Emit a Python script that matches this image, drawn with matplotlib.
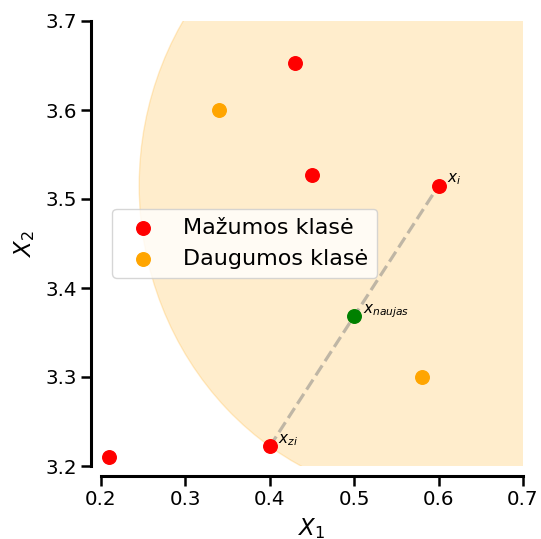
import numpy as np
import matplotlib
matplotlib.use("Agg")
import matplotlib.pyplot as plt
from matplotlib.patches import Circle

# Mažumos klasė (red) and Daugumos klasė (orange) points
min_x = [0.21, 0.40, 0.45, 0.43, 0.60]
min_y = [3.21, 3.222, 3.527, 3.653, 3.515]
maj_x = [0.34, 0.58]
maj_y = [3.60, 3.30]

x_i = (0.60, 3.515)
x_zi = (0.40, 3.222)
x_new = (0.50, 3.368)

fig = plt.figure(figsize=(5.41, 5.39), dpi=100)
ax = fig.add_axes([101 / 541, 1 - 466 / 539, 422 / 541, 445 / 539])

# neighbourhood of x_i
r = np.hypot(x_i[0] - x_zi[0], x_i[1] - x_zi[1])
ax.add_patch(Circle(x_i, r, color="orange", alpha=0.2, zorder=0))

ax.plot([x_zi[0], x_i[0]], [x_zi[1], x_i[1]], "--", color="gray", alpha=0.5,
        lw=2.3, zorder=1)

ax.scatter(min_x, min_y, s=95, color="red", label="Mažumos klasė", zorder=3)
ax.scatter(maj_x, maj_y, s=95, color="orange", label="Daugumos klasė", zorder=3)
ax.scatter([x_new[0]], [x_new[1]], s=95, color="green", zorder=3)

ax.text(x_i[0] + 0.01, x_i[1] + 0.004, r"$x_i$", fontsize=11)
ax.text(x_zi[0] + 0.01, x_zi[1] + 0.004, r"$x_{zi}$", fontsize=11)
ax.text(x_new[0] + 0.01, x_new[1] + 0.004, r"$x_{naujas}$", fontsize=11)

ax.set_xlim(0.2, 0.7)
ax.set_ylim(3.2, 3.7)
ax.set_xticks([0.2, 0.3, 0.4, 0.5, 0.6, 0.7])
ax.set_yticks([3.2, 3.3, 3.4, 3.5, 3.6, 3.7])
ax.tick_params(labelsize=14.3, length=7, width=1.8)
ax.set_xlabel(r"$X_1$", fontsize=16.5, labelpad=5)
ax.set_ylabel(r"$X_2$", fontsize=16.5, labelpad=6)

for s in ["top", "right"]:
    ax.spines[s].set_visible(False)
for s in ["left", "bottom"]:
    ax.spines[s].set_position(("outward", 7))
    ax.spines[s].set_linewidth(2.2)

ax.legend(loc="center left", fontsize=16, borderaxespad=0.5)

fig.savefig("out.png", dpi=100)
